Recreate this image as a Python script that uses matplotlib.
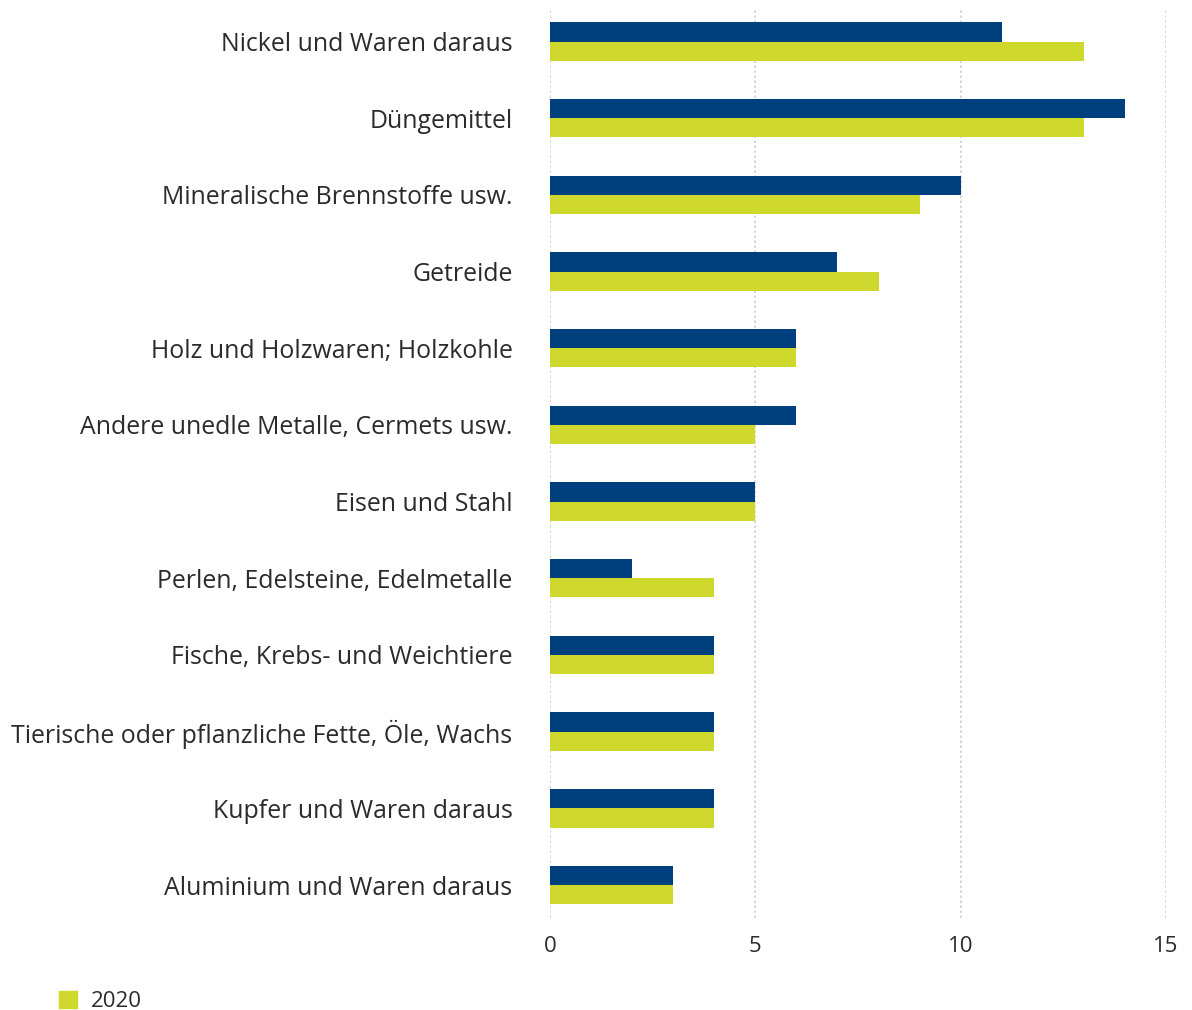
import matplotlib.pyplot as plt
from matplotlib.patches import Patch
import numpy as np

plt.rcParams['font.family'] = ['Open Sans', 'DejaVu Sans']

categories = [
    "Nickel und Waren daraus",
    "Düngemittel",
    "Mineralische Brennstoffe usw.",
    "Getreide",
    "Holz und Holzwaren; Holzkohle",
    "Andere unedle Metalle, Cermets usw.",
    "Eisen und Stahl",
    "Perlen, Edelsteine, Edelmetalle",
    "Fische, Krebs- und Weichtiere",
    "Tierische oder pflanzliche Fette, Öle, Wachs",
    "Kupfer und Waren daraus",
    "Aluminium und Waren daraus",
]
values_2021 = [11, 14, 10, 7, 6, 6, 5, 2, 4, 4, 4, 3]
values_2020 = [13, 13, 9, 8, 6, 5, 5, 4, 4, 4, 4, 3]
x_ticks = [0, 5, 10, 15]

navy = '#003f7d'
lime = '#cfd82d'
text_col = '#2b2b2b'

fig = plt.figure(figsize=(11.92, 10.10), dpi=100)
ax = fig.add_axes([0.4614, 0.0911, 0.5168, 0.8989])

y = np.arange(len(categories))
h = 0.25
ax.barh(y - h / 2, values_2021, height=h, color=navy, label='2021')
ax.barh(y + h / 2, values_2020, height=h, color=lime, label='2020')

ax.set_ylim(len(categories) - 0.57, -0.41)
ax.set_xlim(0, 15)
ax.set_xticks(x_ticks)
ax.set_yticks(y)
ax.set_yticklabels(categories)
ax.tick_params(axis='y', length=0, labelsize=17.9, colors=text_col, pad=27)
ax.tick_params(axis='x', length=0, labelsize=16, colors=text_col, pad=13)
for lbl in ax.get_yticklabels():
    lbl.set_y(lbl.get_position()[1])
for s in ax.spines.values():
    s.set_visible(False)
ax.grid(axis='x', color='#d0d0d0', linestyle=(0, (1.5, 1.5)), linewidth=1.2)
ax.set_axisbelow(True)

fig.legend(handles=[Patch(color=lime, label='2020')], loc='lower left',
           bbox_to_anchor=(0.033, -0.022), frameon=False, fontsize=16,
           handlelength=0.8, handleheight=0.8, handletextpad=0.6,
           labelcolor=text_col)

fig.savefig('out.png', dpi=100)
